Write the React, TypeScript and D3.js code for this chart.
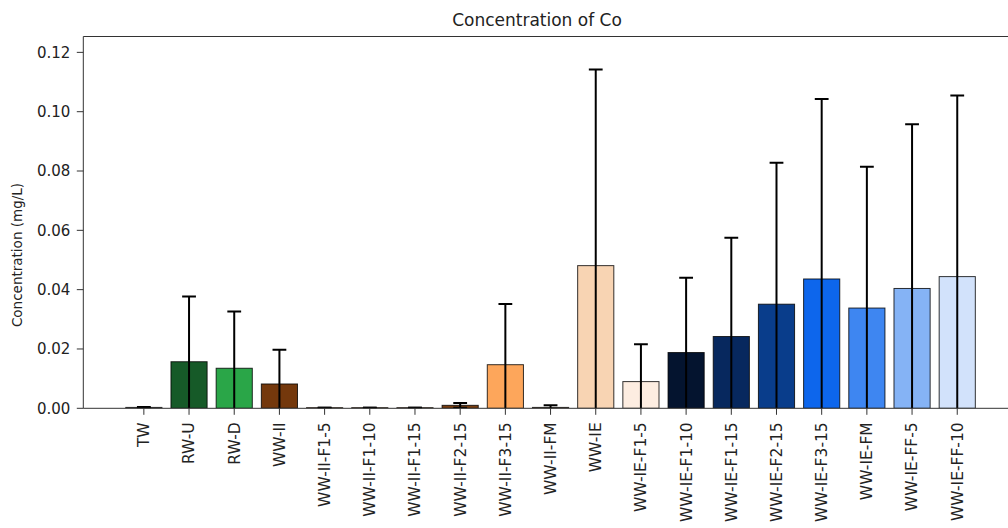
import React from "react";
import * as d3 from "d3";

const categories = [
  "TW", "RW-U", "RW-D", "WW-II", "WW-II-F1-5", "WW-II-F1-10", "WW-II-F1-15",
  "WW-II-F2-15", "WW-II-F3-15", "WW-II-FM", "WW-IE", "WW-IE-F1-5", "WW-IE-F1-10",
  "WW-IE-F1-15", "WW-IE-F2-15", "WW-IE-F3-15", "WW-IE-FM", "WW-IE-FF-5", "WW-IE-FF-10",
];
const means = [
  0.0003, 0.0157, 0.0135, 0.0082, 0.0002, 0.0002, 0.0002,
  0.001, 0.0147, 0.0003, 0.0481, 0.009, 0.0188,
  0.0242, 0.0351, 0.0436, 0.0338, 0.0404, 0.0444,
];
const upperBounds = [
  0.0004, 0.0377, 0.0326, 0.0197, 0.0002, 0.0002, 0.0002,
  0.0018, 0.0352, 0.001, 0.1142, 0.0216, 0.044,
  0.0575, 0.0828, 0.1043, 0.0814, 0.0958, 0.1055,
];
const colors = [
  "#d9d9d9", "#165a28", "#2aa648", "#74380c", "#8b4a12", "#8b4a12", "#8b4a12",
  "#7a3e10", "#fda65b", "#fcd9bb", "#f8d4b3", "#fdede1", "#04142f",
  "#07285e", "#093d8b", "#0d66ec", "#3e86f1", "#85b3f5", "#d2e2fb",
];
const yTicks = [0, 0.02, 0.04, 0.06, 0.08, 0.1, 0.12];

const W = 1008, H = 528;
const left = 83.3, right = 1017.8, top = 36.5, bottom = 408.3;

export default function App() {
  const x = d3.scaleLinear().domain([-1.34, 19.34]).range([left, right]);
  const y = d3.scaleLinear().domain([0, 0.12535]).range([bottom, top]);
  const bw = x(0.8) - x(0);
  const cap = 6.9;
  const font = "DejaVu Sans, sans-serif";
  const fs = 15;
  const fx = 15.5;
  return (
    <svg width={W} height={H} style={{ position: "absolute", left: 0, top: 0, background: "#fff" }}>
      <defs>
        <clipPath id="plot">
          <rect x={left} y={top} width={right - left} height={bottom - top} />
        </clipPath>
      </defs>
      <g clipPath="url(#plot)">
        {categories.map((c, i) => (
          <rect key={c} x={x(i) - bw / 2} y={y(means[i])} width={bw}
            height={bottom - y(means[i])} fill={colors[i]} stroke="#000" strokeWidth={1} strokeOpacity={0.8} />
        ))}
        {categories.map((c, i) => {
          const e = upperBounds[i] - means[i];
          const lo = means[i] - e;
          const cx = x(i);
          return (
            <g key={"e" + c} stroke="#000" strokeWidth={2}>
              <line x1={cx} x2={cx} y1={y(upperBounds[i])} y2={y(lo)} />
              <line x1={cx - cap} x2={cx + cap} y1={y(upperBounds[i])} y2={y(upperBounds[i])} />
              <line x1={cx - cap} x2={cx + cap} y1={y(lo)} y2={y(lo)} />
            </g>
          );
        })}
      </g>
      {/* spines */}
      <g stroke="#333" strokeWidth={1} fill="none">
        <line x1={left} x2={left} y1={top} y2={bottom} />
        <line x1={left} x2={right} y1={bottom} y2={bottom} />
        <line x1={left} x2={right} y1={top} y2={top} />
        <line x1={right} x2={right} y1={top} y2={bottom} />
      </g>
      {/* y ticks */}
      {yTicks.map((t) => (
        <g key={t}>
          <line x1={left - 6.5} x2={left} y1={y(t)} y2={y(t)} stroke="#333" strokeWidth={1} />
          <text x={left - 13} y={y(t)} dy="0.35em" textAnchor="end" fontFamily={font} fontSize={fs} fill="#222">
            {t.toFixed(2)}
          </text>
        </g>
      ))}
      {/* x ticks */}
      {categories.map((c, i) => (
        <g key={"t" + c}>
          <line x1={x(i)} x2={x(i)} y1={bottom} y2={bottom + 6.5} stroke="#333" strokeWidth={1} />
          <text transform={`translate(${x(i)},${bottom + 14}) rotate(-90)`} dy="0.35em" textAnchor="end"
            fontFamily={font} fontSize={fx} fill="#222">
            {c}
          </text>
        </g>
      ))}
      <text x={17} y={255} transform={`rotate(-90,17,255)`} dy="0.35em"
        textAnchor="middle" fontFamily={font} fontSize={13.5} fill="#222">
        Concentration (mg/L)
      </text>
      <text x={537} y={20} dy="0.35em" textAnchor="middle" fontFamily={font} fontSize={17} fill="#222">
        Concentration of Co
      </text>
    </svg>
  );
}
